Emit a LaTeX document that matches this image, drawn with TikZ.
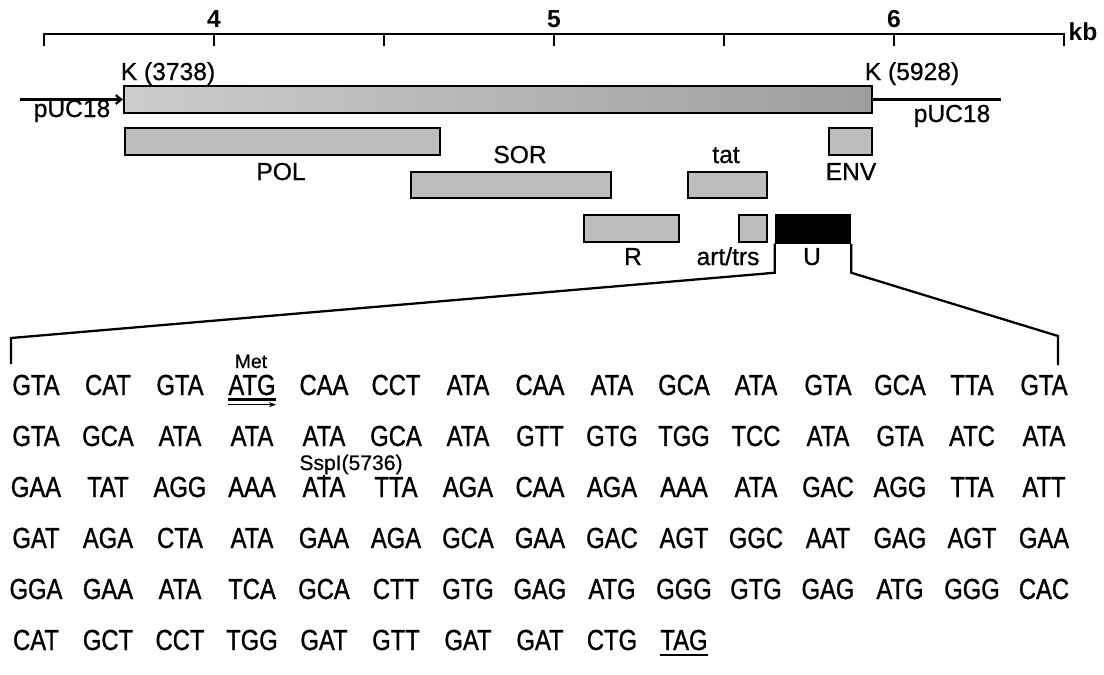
\documentclass[tikz,border=0pt]{standalone}
\usepackage{fontspec}
\setmainfont{Liberation Sans}
\newfontfamily\seqfont[FakeStretch=0.82,FakeBold=1]{Liberation Sans}
\newfontfamily\lblfont[FakeBold=0.7]{Liberation Sans}
\usetikzlibrary{arrows.meta}

\begin{document}
\begin{tikzpicture}[
  genebox/.style  = {draw, fill=black!26, line width=1.4pt, minimum height=0.54cm, inner sep=0pt},
  orfbox/.style   = {genebox, fill=black},
  genelbl/.style  = {font=\lblfont\fontsize{14}{14}\selectfont, inner sep=0pt, anchor=base},
  scalelbl/.style = {font=\bfseries\fontsize{14}{14}\selectfont, inner sep=0pt, anchor=base},
  codon/.style    = {font=\seqfont\fontsize{16.5}{16.5}\selectfont, inner sep=0pt, anchor=base},
  note/.style     = {font=\lblfont\fontsize{11}{11}\selectfont, inner sep=0pt, anchor=base},
  wire/.style     = {line width=1.3pt},
  x=0.02cm, y=-0.02cm,
]
  \useasboundingbox (0,0) rectangle (1104,674);

  % kb scale
  \coordinate (sl) at (44,34);
  \coordinate (sr) at (1064,34);
  \draw[wire] (44,46) -- (sl) -- (sr) -- (1064,46);
  \foreach \k in {4,4.5,5,5.5,6}
    \draw[wire] ({214+340*(\k-4)},34) -- ++(0,12);
  \foreach \k in {4,5,6}
    \node[scalelbl] (n\k) at ({214+340*(\k-4)},27) {\k};
  \node[scalelbl] (kb) at (1083,40) {kb};

  % KpnI insert in pUC18
  \node[genebox, left color=black!20, right color=black!38, minimum width=14.96cm] (ins) at (498,99.5) {};
  \coordinate (pl) at (20,99.5);
  \coordinate (pr) at (1001,99.5);
  \draw[wire, -{Straight Barb[length=3pt,width=5pt]}] (pl) -- (ins.west);
  \draw[wire] (ins.east) -- (pr);
  \node[genelbl] (kl) at (168,80) {K (3738)};
  \node[genelbl] (kr) at (912,80) {K (5928)};
  \node[genelbl] (pucl) at (72,117) {pUC18};
  \node[genelbl] (pucr) at (952,122) {pUC18};

  % genes
  \node[genebox, minimum width=6.3cm]  (pol) at (282.5,141.5) {};
  \node[genebox, minimum width=0.86cm] (env) at (850.5,141.5) {};
  \node[genebox, minimum width=4.0cm, minimum height=0.52cm]  (sor) at (511,185) {};
  \node[genebox, minimum width=1.58cm, minimum height=0.52cm] (tat) at (727.5,185) {};
  \node[genebox, minimum width=1.9cm]  (rev) at (631.5,228.5) {};
  \node[genebox, minimum width=0.56cm] (art) at (753,228.5) {};
  \node[orfbox,  minimum width=1.48cm] (u)   at (813,229) {};
  \node[genelbl] (lpol) at (281,180) {POL};
  \node[genelbl] (lenv) at (851,180) {ENV};
  \node[genelbl] (lsor) at (520,163) {SOR};
  \node[genelbl] (ltat) at (726,163) {tat};
  \node[genelbl] (lrev) at (633,265) {R};
  \node[genelbl] (lart) at (728,265) {art/trs};
  \node[genelbl] (lu)   at (812,265) {U};

  % expansion of U
  \coordinate (bl) at (11,338);
  \coordinate (br) at (1058,336);
  \draw[wire] (u.south west) -- ++(0,29) -- (bl) -- ++(0,26);
  \draw[wire] (u.south east) -- ++(0,29) -- (br) -- ++(0,29);

  % sequence
  \foreach \r/\s in {
    1/{GTA,CAT,GTA,ATG,CAA,CCT,ATA,CAA,ATA,GCA,ATA,GTA,GCA,TTA,GTA},
    2/{GTA,GCA,ATA,ATA,ATA,GCA,ATA,GTT,GTG,TGG,TCC,ATA,GTA,ATC,ATA},
    3/{GAA,TAT,AGG,AAA,ATA,TTA,AGA,CAA,AGA,AAA,ATA,GAC,AGG,TTA,ATT},
    4/{GAT,AGA,CTA,ATA,GAA,AGA,GCA,GAA,GAC,AGT,GGC,AAT,GAG,AGT,GAA},
    5/{GGA,GAA,ATA,TCA,GCA,CTT,GTG,GAG,ATG,GGG,GTG,GAG,ATG,GGG,CAC},
    6/{CAT,GCT,CCT,TGG,GAT,GTT,GAT,GAT,CTG,TAG}}
    \foreach \c [count=\i] in \s
      \node[codon] (r\r-\i) at ({36+72*(\i-1)},{395+51*(\r-1)}) {\c};

  \node[note] (met) at (251,368) {Met};
  \draw[wire] ([yshift=-2.5pt]r1-4.base west) -- ([yshift=-2.5pt]r1-4.base east);
  \draw[line width=0.8pt, -{Stealth[length=4pt,width=3pt]}] ([yshift=-5.5pt]r1-4.base west) -- ([yshift=-5.5pt]r1-4.base east);
  \node[note, font=\lblfont\fontsize{12}{12}\selectfont] (ssp) at (351,470) {SspI(5736)};
  \draw[line width=0.8pt] (ssp.south -| r3-5.north) -- (r3-5.north);
  \draw[wire] ([yshift=-3pt]r6-10.base west) -- ([yshift=-3pt]r6-10.base east);
\end{tikzpicture}
\end{document}
